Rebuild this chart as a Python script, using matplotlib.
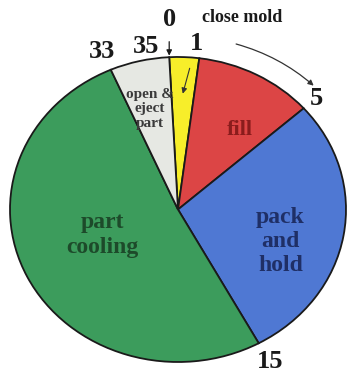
import matplotlib.pyplot as plt
import numpy as np

# Injection molding cycle, times in seconds
phases = ['close mold', 'fill', 'pack and hold', 'part cooling', 'open & eject part']
t_marks = [0, 1, 5, 15, 33, 35]
colors = ['#f7ee2a', '#dc4545', '#4f78d3', '#3c9c5c', '#e6e8e3']
inner_text = ['', 'fill', 'pack\nand\nhold', 'part\ncooling', 'open &\neject\npart']
text_colors = ['#222222', '#8a1c1c', '#1f2f66', '#1d4a2a', '#3a3a3a']

durations = np.diff(t_marks)
cycle = t_marks[-1]
START = 93  # pie starts slightly left of vertical

plt.rcParams['font.family'] = ['Liberation Serif', 'DejaVu Serif']

fig = plt.figure(figsize=(3.49, 3.77), dpi=100)
# axes box = bounding box of the (elliptical) pie
ax = fig.add_axes([10 / 349, 15 / 377, 336 / 349, 305 / 377])
ax.pie(durations, colors=colors, startangle=START, counterclock=False,
       wedgeprops=dict(edgecolor='#1a1a1a', linewidth=1.3))
ax.set_aspect('auto')
ax.set_xlim(-1, 1)
ax.set_ylim(-1, 1)
ax.axis('off')


def ang(t):
    # angle (degrees, math convention) of a time mark on the pie
    return np.deg2rad(START - 360.0 * t / cycle)


def pos(t, r):
    a = ang(t)
    return r * np.cos(a), r * np.sin(a)


# phase names inside wedges
ax.text(-0.45, -0.17, inner_text[3], ha='center', va='center', fontsize=17,
        fontweight='bold', color=text_colors[3], linespacing=1.25)
ax.text(0.61, -0.21, inner_text[2], ha='center', va='center', fontsize=17,
        fontweight='bold', color=text_colors[2], linespacing=1.2)
ax.text(0.37, 0.52, inner_text[1], ha='center', va='center', fontsize=16,
        fontweight='bold', color=text_colors[1])
ax.text(-0.17, 0.66, inner_text[4], ha='center', va='center', fontsize=11,
        fontweight='bold', color=text_colors[4], linespacing=1.15)

# time marks around the rim
num = dict(fontsize=19, fontweight='bold', color='#1a1a1a', ha='center', va='center')
x, y = pos(t_marks[4], 1.13)
ax.text(x, y, str(t_marks[4]), **num)
x, y = pos(t_marks[3], 1.14)
ax.text(x, y, str(t_marks[3]), **num)
x, y = pos(t_marks[2], 1.1)
ax.text(x, y, str(t_marks[2]), **num)
x, y = pos(t_marks[5], 1.0)
ax.text(x - 0.14, y + 0.07, str(t_marks[5]), **num)

# "0" with arrow to the start of the cycle
x0, y0 = pos(t_marks[0], 1.0)
ax.annotate(str(t_marks[0]), xy=(x0, y0 + 0.01), xytext=(x0, y0 + 0.25),
            annotation_clip=False,
            arrowprops=dict(arrowstyle='-|>', color='#1a1a1a', lw=0.9,
                            mutation_scale=8, shrinkA=6, shrinkB=0), **num)

# "1" with arrow into the close mold wedge
xm, ym = pos((t_marks[0] + t_marks[1]) / 2, 0.76)
ax.annotate(str(t_marks[1]), xy=(xm, ym), xytext=(0.11, 1.09),
            annotation_clip=False,
            arrowprops=dict(arrowstyle='-|>', color='#333333', lw=0.8,
                            mutation_scale=8, shrinkA=8, shrinkB=0), **num)
ax.text(0.38, 1.26, phases[0], ha='center', va='center', fontsize=13,
        fontweight='bold', color='#1a1a1a')

# curved arrow showing clockwise direction
ax.annotate('', xy=(0.82, 0.8), xytext=(0.33, 1.09), annotation_clip=False,
            arrowprops=dict(arrowstyle='-|>', color='#333333', lw=0.9,
                            mutation_scale=8,
                            connectionstyle='arc3,rad=-0.12'))

fig.savefig('out.png', dpi=100)
